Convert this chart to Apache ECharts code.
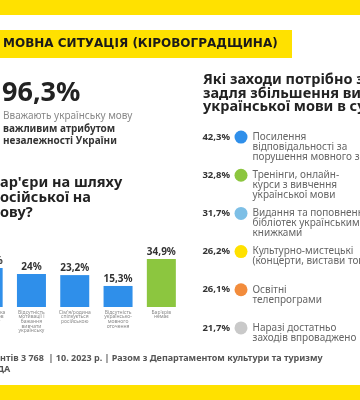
<!DOCTYPE html>
<html><head><meta charset="utf-8">
<script src="https://cdn.jsdelivr.net/npm/echarts@6/dist/echarts.min.js"></script>
<style>html,body{margin:0;padding:0;background:#fff;overflow:hidden;width:360px;height:400px}
#c{width:394px;height:400px;margin-left:-34px}</style>
</head><body><div id="c"></div>
<script>
// ---- data ----
const barCategories = [
  "Мовна звичка\nбрак розмов\nі контенту",
  "Відсутність\nмотивації і\nбажання\nвивчати\nукраїнську",
  "Сім'я/родина\nспілкується\nросійською",
  "Відсутність\nукраїнсько-\nмовного\nоточення",
  "Бар'єрів\nнемає"
];
const barValues = [28.4, 24, 23.2, 15.3, 34.9];

const measureNames = [
  "Посилення\nвідповідальності за\nпорушення мовного закону",
  "Тренінги, онлайн-\nкурси з вивчення\nукраїнської мови",
  "Видання та поповнення\nбібліотек українськими\nкнижками",
  "Культурно-мистецькі\n(концерти, вистави тощо)",
  "Освітні\nтелепрограми",
  "Наразі достатньо\nзаходів впроваджено"
];
const measureValues = [42.3, 32.8, 31.7, 26.2, 26.1, 21.7];

const headlineValue = 96.3;

// ---- style ----
const OFF = 34; // chart canvas starts 34px left of the visible page
const FONT = "'Noto Sans', sans-serif";
const YELLOW = "#FFE100";
const dotColors = ["#2F8FEA", "#8CC63F", "#7DBFE6", "#FFE100", "#F28C3C", "#C9C9C9"];
const fmt = v => String(v).replace('.', ',') + '%';

const chart = echarts.init(document.getElementById('c'), null, {renderer: 'canvas'});
chart.setOption({
  backgroundColor: '#fff',
  animation: false,
  textStyle: {fontFamily: FONT},
  grid: [
    {left: OFF - 33.5, width: 216.5, top: 252, bottom: 93},
    {left: OFF + 241, width: 100, top: 118, height: 229}
  ],
  xAxis: [
    {type: 'category', gridIndex: 0, data: barCategories,
     axisLine: {show: false}, axisTick: {show: false},
     axisLabel: {interval: 0, fontSize: 5, lineHeight: 4.6, color: '#8a8a8a', margin: 3, fontFamily: FONT}},
    {type: 'value', gridIndex: 1, min: 0, max: 1, show: false}
  ],
  yAxis: [
    {type: 'value', gridIndex: 0, min: 0, max: 40, show: false},
    {type: 'category', gridIndex: 1, inverse: true, data: measureNames,
     axisLine: {show: false}, axisTick: {show: false}, splitLine: {show: false},
     axisLabel: {formatter: (v, i) => fmt(measureValues[i]), fontSize: 9.5, fontWeight: 'bold',
                 color: '#333', margin: 11, fontFamily: FONT}}
  ],
  series: [
    {type: 'bar', xAxisIndex: 0, yAxisIndex: 0, barWidth: 29,
     data: barValues.map((v, i) => ({value: v,
       itemStyle: {color: i === barValues.length - 1 ? '#8CC63F' : '#2F8FEA'}})),
     label: {show: true, position: 'top', distance: 2, formatter: p => fmt(p.value),
             fontSize: 10, fontWeight: 'bold', color: '#333', fontFamily: FONT}},
    {type: 'scatter', xAxisIndex: 1, yAxisIndex: 1, symbolSize: 13,
     data: measureNames.map((n, i) => ({value: [0, i], itemStyle: {color: dotColors[i], opacity: 1}})),
     label: {show: true, position: 'right', distance: 5, verticalAlign: 'top', offset: [0, -5],
             formatter: p => measureNames[p.dataIndex], fontSize: 10, lineHeight: 10,
             color: '#666', fontFamily: FONT}}
  ],
  graphic: [
    {type: 'rect', shape: {x: 0, y: 0, width: 394, height: 15}, style: {fill: YELLOW}, silent: true},
    {type: 'rect', shape: {x: 0, y: 385, width: 394, height: 15}, style: {fill: YELLOW}, silent: true},
    {type: 'rect', shape: {x: 0, y: 30, width: OFF + 292, height: 28}, style: {fill: YELLOW}, silent: true},
    {type: 'text', x: OFF + 3, y: 44, style: {text: 'МОВНА СИТУАЦІЯ (КІРОВОГРАДЩИНА)', fontFamily: 'DejaVu Sans',
      fontSize: 12, fontWeight: 'bold', fill: '#1a1a1a', verticalAlign: 'middle'}},
    {type: 'text', x: OFF + 2, y: 93, style: {text: fmt(headlineValue), fontFamily: FONT, fontSize: 27,
      fontWeight: 'bold', fill: '#222', verticalAlign: 'middle'}},
    {type: 'text', x: OFF + 3, y: 110, style: {
      text: '{a|Вважають українську мову}\n{b|важливим атрибутом}\n{b|незалежності України}',
      rich: {a: {fontSize: 10, fill: '#888', color: '#888', fontFamily: FONT, lineHeight: 12.5},
             b: {fontSize: 10, fontWeight: 'bold', fill: '#333', color: '#333', fontFamily: FONT, lineHeight: 12.5}},
      verticalAlign: 'top'}},
    {type: 'text', x: OFF + 0, y: 175.5, style: {text: "ар'єри на шляху\nосійської на\nову?", fontFamily: FONT,
      fontSize: 14.5, fontWeight: 'bold', fill: '#222', lineHeight: 15, verticalAlign: 'top'}},
    {type: 'text', x: OFF + 203, y: 73.5, style: {
      text: 'Які заходи потрібно запровадити\nзадля збільшення використання\nукраїнської мови в суспільстві?',
      fontFamily: FONT, fontSize: 14.5, fontWeight: 'bold', fill: '#222', lineHeight: 13.5, verticalAlign: 'top'}},
    {type: 'text', x: OFF + 0, y: 358, style: {text: 'нтів 3 768  | 10. 2023 р. | Разом з Департаментом культури та туризму',
      fontFamily: FONT, fontSize: 9, fontWeight: 'bold', fill: '#555', verticalAlign: 'middle'}},
    {type: 'text', x: OFF - 3, y: 369, style: {text: 'ДА', fontFamily: FONT, fontSize: 9, fontWeight: 'bold',
      fill: '#555', verticalAlign: 'middle'}}
  ]
});
</script></body></html>
